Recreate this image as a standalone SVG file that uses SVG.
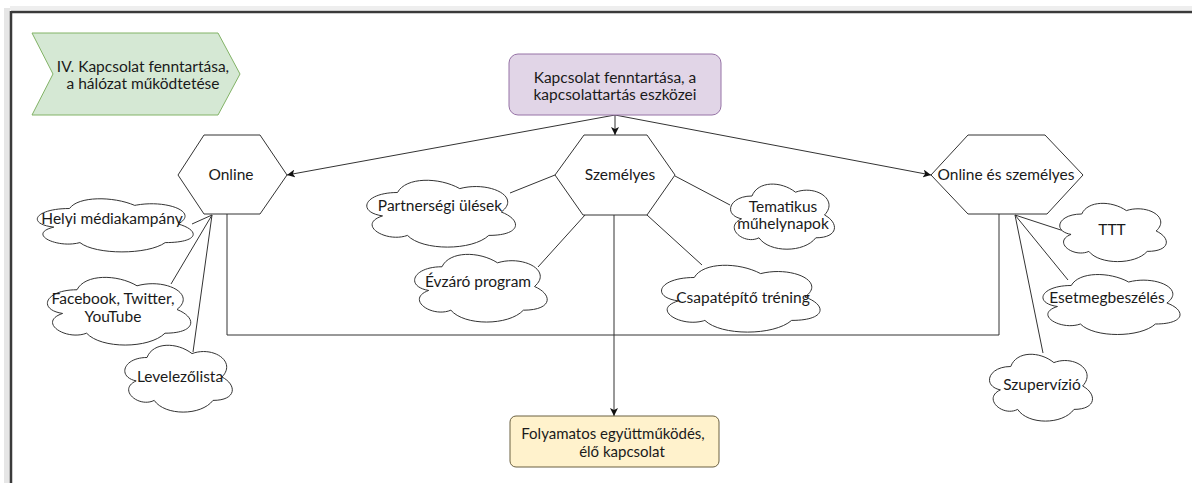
<svg xmlns="http://www.w3.org/2000/svg" width="1192" height="483" viewBox="0 0 1192 483">
<style>
text{font-family:Lato,"Open Sans","Liberation Sans",sans-serif;font-size:15.5px;fill:#1a1a1a;text-anchor:middle}
.hex{fill:#fff;stroke:#333;stroke-width:1}
.cl{fill:#fff;stroke:#333;stroke-width:1;vector-effect:non-scaling-stroke}
.ln{fill:none;stroke:#333;stroke-width:1}
</style>
<defs>
<marker id="ah" viewBox="0 0 10 10" refX="10" refY="5" markerWidth="8" markerHeight="8" markerUnits="userSpaceOnUse" orient="auto">
<path d="M0,0 L10,5 L0,10 L2.5,5 Z" fill="#111"/>
</marker>
</defs>
<rect width="1192" height="483" fill="#fff"/>
<g id="frame">
<rect x="4" y="8" width="6" height="475" fill="#e6e6e6"/>
<rect x="10" y="6" width="1182" height="4" fill="#eeeeee"/>
<line x1="11" y1="12" x2="1192" y2="12" stroke="#3a3a3a" stroke-width="2.5"/>
<line x1="11" y1="11" x2="11" y2="483" stroke="#3a3a3a" stroke-width="2.5"/>
</g>
<g id="connectors">
<line class="ln" x1="615" y1="115" x2="287" y2="175" marker-end="url(#ah)"/>
<line class="ln" x1="615" y1="115" x2="931" y2="175" marker-end="url(#ah)"/>
<line class="ln" x1="615" y1="115" x2="615" y2="135" marker-end="url(#ah)"/>
<line class="ln" x1="614" y1="215" x2="614" y2="416" marker-end="url(#ah)"/>
<polyline class="ln" points="227,214 227,335 999,335 999,214"/>
<line class="ln" x1="212" y1="215" x2="192" y2="224"/>
<line class="ln" x1="212" y1="215" x2="171" y2="284"/>
<line class="ln" x1="212" y1="215" x2="193" y2="352"/>
<line class="ln" x1="555" y1="175" x2="510" y2="193"/>
<line class="ln" x1="585" y1="215" x2="538" y2="267"/>
<line class="ln" x1="675" y1="176" x2="730" y2="205"/>
<line class="ln" x1="647" y1="215" x2="702" y2="265"/>
<line class="ln" x1="1015" y1="215" x2="1070" y2="233"/>
<line class="ln" x1="1015" y1="215" x2="1068" y2="280"/>
<line class="ln" x1="1015" y1="215" x2="1043" y2="353"/>
</g>
<g id="title">
<polygon points="32,33 218,33 240,74 218,115 32,115 53,74" fill="#d5e8d4" stroke="#82b366" stroke-width="1"/>
<text x="143" y="72">IV. Kapcsolat fenntartása,</text>
<text x="143" y="89">a hálózat működtetése</text>
</g>
<g id="main">
<rect x="509" y="54" width="212" height="61" rx="9" fill="#e1d5e7" stroke="#9673a6" stroke-width="1"/>
<text x="615" y="83">Kapcsolat fenntartása, a</text>
<text x="615" y="100">kapcsolattartás eszközei</text>
</g>
<g id="online">
<polygon class="hex" points="204,135 260,135 287,175 260,214 204,214 178,175"/>
<text x="231" y="180">Online</text>
</g>
<g id="szemelyes">
<polygon class="hex" points="584,135 647,135 675,175 647,215 583,215 555,175"/>
<text x="620" y="180">Személyes</text>
</g>
<g id="online-szemelyes">
<polygon class="hex" points="968,135 1045,135 1083,175 1047,214 968,214 931,175"/>
<text x="1006" y="180">Online és személyes</text>
</g>
<g id="result">
<rect x="510" y="416" width="209" height="51" rx="6" fill="#fff2cc" stroke="#6b6040" stroke-width="1"/>
<text x="613" y="439" style="font-size:15px">Folyamatos együttműködés,</text>
<text x="622" y="457" style="font-size:15px">élő kapcsolat</text>
</g>
<g id="helyi">
<path class="cl" d="M0.25,0.25 C0.05,0.25 0,0.5 0.16,0.55 C0,0.66 0.18,0.9 0.31,0.8 C0.4,1 0.7,1 0.8,0.8 C1,0.8 1,0.6 0.875,0.5 C1,0.3 0.8,0.1 0.625,0.2 C0.5,0.05 0.3,0.05 0.25,0.25 Z" transform="translate(26,193) scale(174,62)"/>
<text x="112" y="224">Helyi médiakampány</text>
</g>
<g id="facebook">
<path class="cl" d="M0.25,0.25 C0.05,0.25 0,0.5 0.16,0.55 C0,0.66 0.18,0.9 0.31,0.8 C0.4,1 0.7,1 0.8,0.8 C1,0.8 1,0.6 0.875,0.5 C1,0.3 0.8,0.1 0.625,0.2 C0.5,0.05 0.3,0.05 0.25,0.25 Z" transform="translate(37,270) scale(160,79)"/>
<text x="113" y="304">Facebook, Twitter,</text>
<text x="113" y="322">YouTube</text>
</g>
<g id="levelezo">
<path class="cl" d="M0.25,0.25 C0.05,0.25 0,0.5 0.16,0.55 C0,0.66 0.18,0.9 0.31,0.8 C0.4,1 0.7,1 0.8,0.8 C1,0.8 1,0.6 0.875,0.5 C1,0.3 0.8,0.1 0.625,0.2 C0.5,0.05 0.3,0.05 0.25,0.25 Z" transform="translate(117,338) scale(120,78)"/>
<text x="180" y="382">Levelezőlista</text>
</g>
<g id="partnersegi">
<path class="cl" d="M0.25,0.25 C0.05,0.25 0,0.5 0.16,0.55 C0,0.66 0.18,0.9 0.31,0.8 C0.4,1 0.7,1 0.8,0.8 C1,0.8 1,0.6 0.875,0.5 C1,0.3 0.8,0.1 0.625,0.2 C0.5,0.05 0.3,0.05 0.25,0.25 Z" transform="translate(356,173) scale(166,78)"/>
<text x="440" y="211">Partnerségi ülések</text>
</g>
<g id="evzaro">
<path class="cl" d="M0.25,0.25 C0.05,0.25 0,0.5 0.16,0.55 C0,0.66 0.18,0.9 0.31,0.8 C0.4,1 0.7,1 0.8,0.8 C1,0.8 1,0.6 0.875,0.5 C1,0.3 0.8,0.1 0.625,0.2 C0.5,0.05 0.3,0.05 0.25,0.25 Z" transform="translate(405,247) scale(148,79)"/>
<text x="478" y="287">Évzáró program</text>
</g>
<g id="tematikus">
<path class="cl" d="M0.25,0.25 C0.05,0.25 0,0.5 0.16,0.55 C0,0.66 0.18,0.9 0.31,0.8 C0.4,1 0.7,1 0.8,0.8 C1,0.8 1,0.6 0.875,0.5 C1,0.3 0.8,0.1 0.625,0.2 C0.5,0.05 0.3,0.05 0.25,0.25 Z" transform="translate(723,177) scale(116,76)"/>
<text x="783" y="212">Tematikus</text>
<text x="783" y="229">műhelynapok</text>
</g>
<g id="csapat">
<path class="cl" d="M0.25,0.25 C0.05,0.25 0,0.5 0.16,0.55 C0,0.66 0.18,0.9 0.31,0.8 C0.4,1 0.7,1 0.8,0.8 C1,0.8 1,0.6 0.875,0.5 C1,0.3 0.8,0.1 0.625,0.2 C0.5,0.05 0.3,0.05 0.25,0.25 Z" transform="translate(650,258) scale(177,78)"/>
<text x="743" y="303">Csapatépítő tréning</text>
</g>
<g id="ttt">
<path class="cl" d="M0.25,0.25 C0.05,0.25 0,0.5 0.16,0.55 C0,0.66 0.18,0.9 0.31,0.8 C0.4,1 0.7,1 0.8,0.8 C1,0.8 1,0.6 0.875,0.5 C1,0.3 0.8,0.1 0.625,0.2 C0.5,0.05 0.3,0.05 0.25,0.25 Z" transform="translate(1052,197) scale(119,68)"/>
<text x="1112" y="235">TTT</text>
</g>
<g id="esetmeg">
<path class="cl" d="M0.25,0.25 C0.05,0.25 0,0.5 0.16,0.55 C0,0.66 0.18,0.9 0.31,0.8 C0.4,1 0.7,1 0.8,0.8 C1,0.8 1,0.6 0.875,0.5 C1,0.3 0.8,0.1 0.625,0.2 C0.5,0.05 0.3,0.05 0.25,0.25 Z" transform="translate(1033,268) scale(153,70)"/>
<text x="1107" y="303">Esetmegbeszélés</text>
</g>
<g id="szupervizio">
<path class="cl" d="M0.25,0.25 C0.05,0.25 0,0.5 0.16,0.55 C0,0.66 0.18,0.9 0.31,0.8 C0.4,1 0.7,1 0.8,0.8 C1,0.8 1,0.6 0.875,0.5 C1,0.3 0.8,0.1 0.625,0.2 C0.5,0.05 0.3,0.05 0.25,0.25 Z" transform="translate(982,347) scale(115,78)"/>
<text x="1042" y="390">Szupervízió</text>
</g>
</svg>
